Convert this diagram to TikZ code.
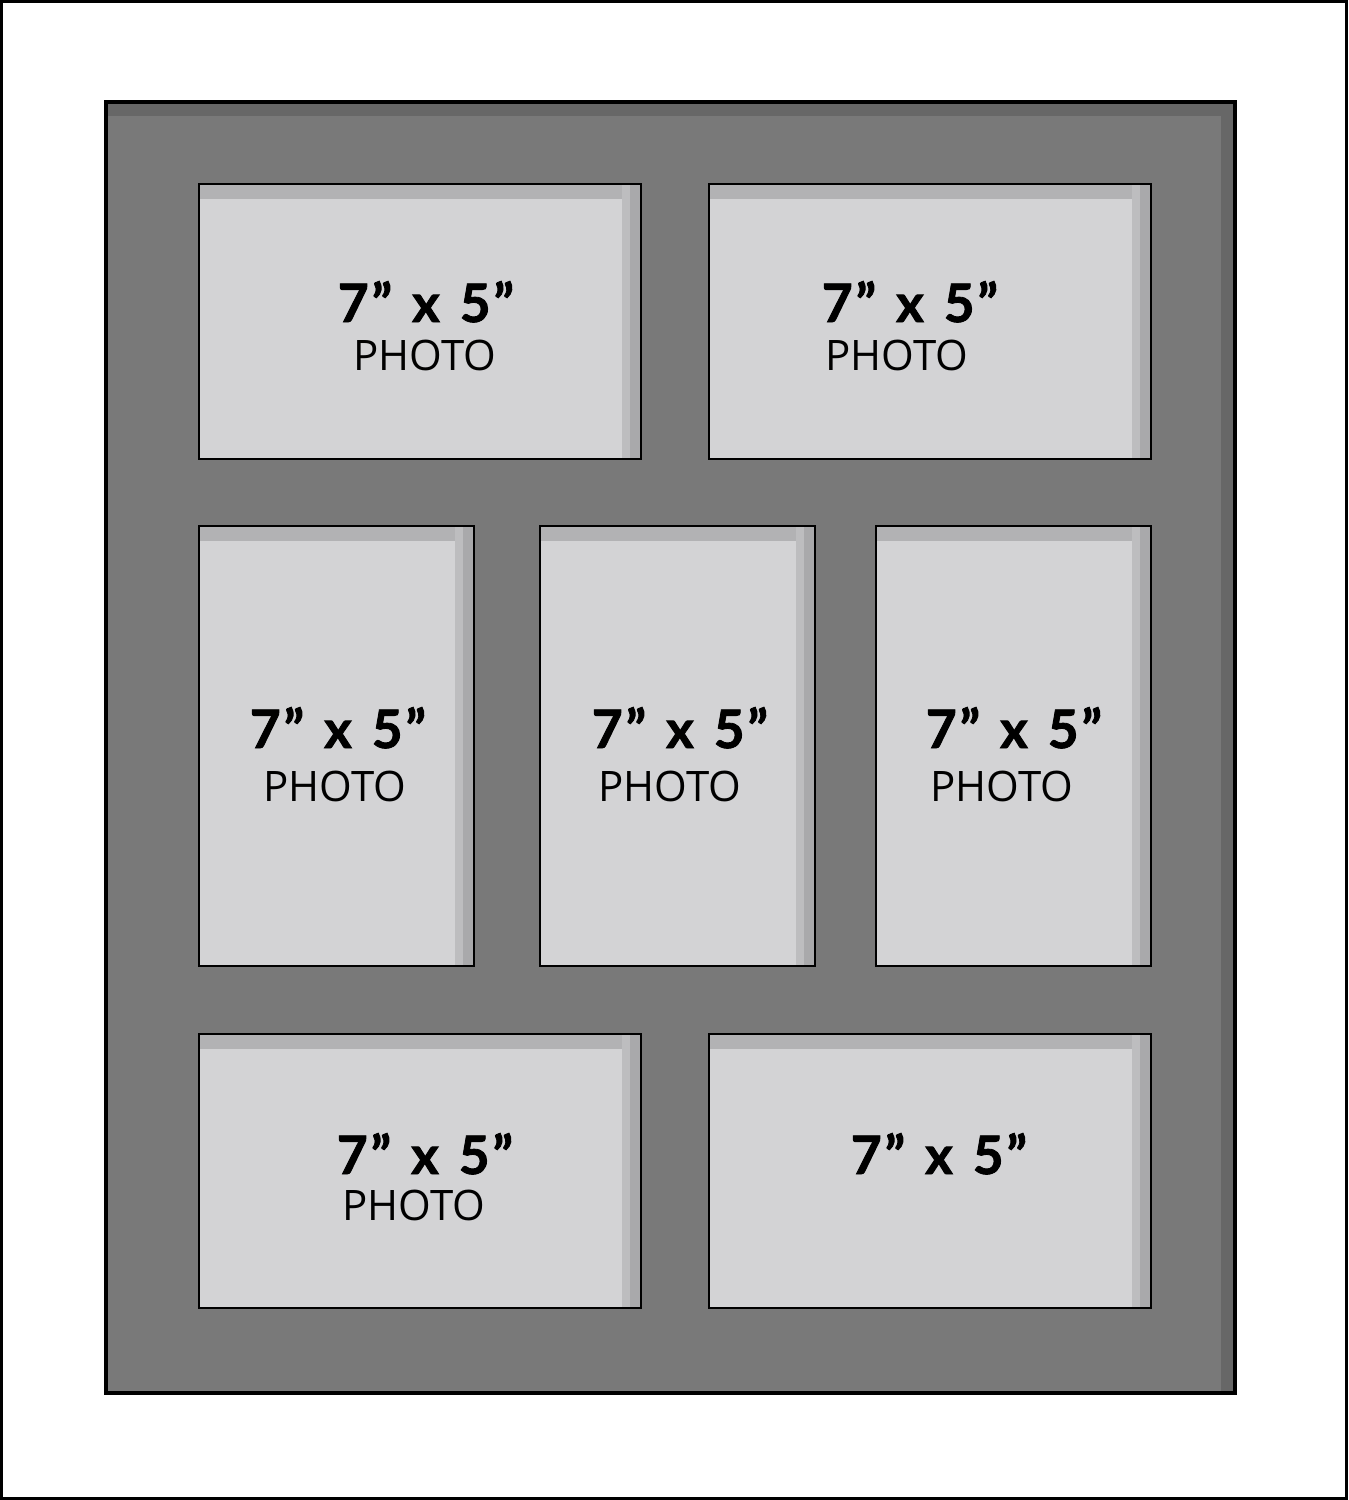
\documentclass[tikz,border=0pt]{standalone}
\usepackage{fontspec}
\setmainfont{Open Sans}
\newfontfamily\sizefont[BoldFeatures={FakeBold=1.6}]{Lato}
\newcommand\sizetext{7\kern3pt”\hspace{20pt}x\hspace{20pt}5\kern3pt”}
\usepackage{xcolor}
\usetikzlibrary{calc}

\definecolor{matgray}{HTML}{797979}
\definecolor{matshade}{HTML}{676767}
\definecolor{winface}{HTML}{D3D3D5}
\definecolor{wintop}{HTML}{B2B2B4}
\definecolor{winlight}{HTML}{BDBDBF}
\definecolor{winside}{HTML}{A9A9AB}

\tikzset{
  mat/.style={fill=matgray},
  matedge/.style={draw=black,line width=4pt},
  win/.style={fill=winface,inner sep=0pt,outer sep=0pt,anchor=north west},
  winedge/.style={draw=black,line width=1.3pt},
  sizelabel/.style={anchor=base,inner sep=0pt,font=\sizefont\fontsize{53}{53}\selectfont\bfseries},
  photolabel/.style={anchor=base,inner sep=0pt,font=\fontsize{42}{42}\selectfont},
}

\begin{document}
\begin{tikzpicture}[x=1pt,y=-1pt]
\useasboundingbox (0,0) rectangle (1349,1500);
% outer frame
\draw[line width=3pt] (1.5,1.5) rectangle (1346,1498.5);

% mount board
\fill[mat] (106,102) rectangle (1235,1393);
\fill[matshade] (106,102) rectangle (1235,116);
\fill[matshade] (1221,102) rectangle (1235,1393);
\draw[matedge] (106,102) rectangle (1235,1393);

% openings
\foreach \n/\xa/\ya/\xb/\yb in {w1/199/184/641/459, w2/709/184/1151/459,
    w3/199/526/474/966, w4/540/526/815/966, w5/876/526/1151/966,
    w6/199/1034/641/1308, w7/709/1034/1151/1308}{
  \node[win,minimum width={\xb pt-\xa pt},minimum height={\yb pt-\ya pt}] (\n) at (\xa,\ya) {};
  \fill[wintop] (\n.north west) rectangle ([yshift=-15pt]\n.north east);
  \fill[winlight] ([xshift=-19pt]\n.north east) rectangle ([xshift=-11pt]\n.south east);
  \fill[winside] ([xshift=-11pt]\n.north east) rectangle (\n.south east);
  \draw[winedge] (\n.north west) rectangle (\n.south east);
}

% labels
\node[sizelabel] (s1) at (426,322) {\sizetext};
\node[photolabel] (p1) at (425,370) {PHOTO};
\node[sizelabel] (s2) at (910,322) {\sizetext};
\node[photolabel] (p2) at (897,370) {PHOTO};
\node[sizelabel] (s3) at (338,748) {\sizetext};
\node[photolabel] (p3) at (335,801) {PHOTO};
\node[sizelabel] (s4) at (680,748) {\sizetext};
\node[photolabel] (p4) at (670,801) {PHOTO};
\node[sizelabel] (s5) at (1014,748) {\sizetext};
\node[photolabel] (p5) at (1002,801) {PHOTO};
\node[sizelabel] (s6) at (425,1174) {\sizetext};
\node[photolabel] (p6) at (414,1220) {PHOTO};
\node[sizelabel] (s7) at (939,1174) {\sizetext};
\end{tikzpicture}
\end{document}
